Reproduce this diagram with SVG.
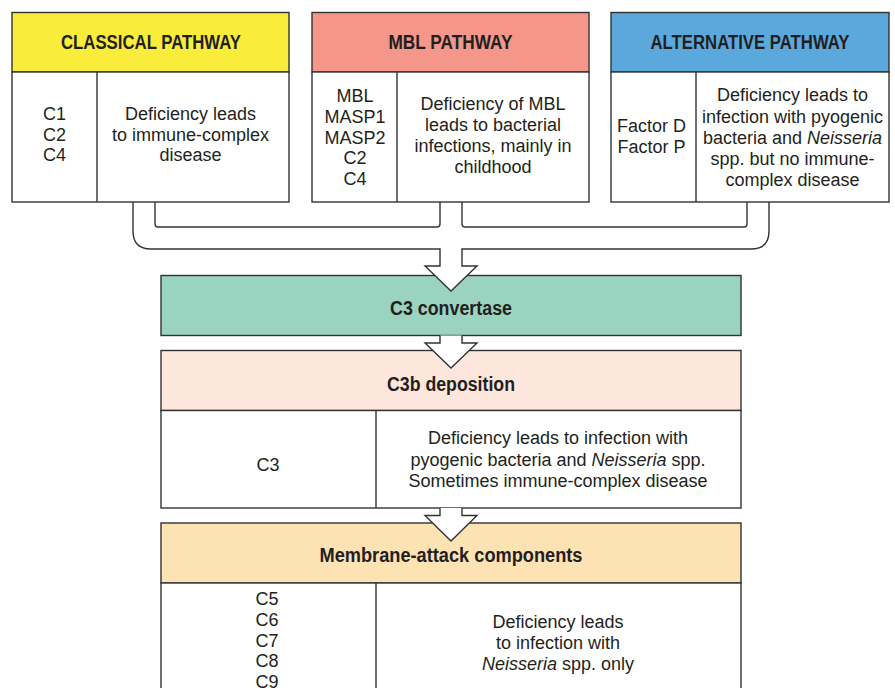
<svg xmlns="http://www.w3.org/2000/svg" width="895" height="688" viewBox="0 0 895 688">
<style>
.box{stroke:#333;stroke-width:1.4;}
.ln{stroke:#333;stroke-width:1.4;fill:none;}
.hd{font-family:"Liberation Sans",Arial,sans-serif;font-weight:bold;font-size:19.5px;fill:#231f20;text-anchor:middle;}
.tx{font-family:"Liberation Sans",Arial,sans-serif;font-size:18px;fill:#231f20;text-anchor:middle;}
.it{font-style:italic;}
.arr{fill:#fff;stroke:#333;stroke-width:1.4;stroke-linejoin:miter;}
</style>
<rect width="895" height="688" fill="#fff"/>
<g id="classical">
<rect class="box" x="12" y="12.5" width="277" height="59.5" fill="#f9ec3a"/>
<rect class="box" x="12" y="72" width="277" height="130" fill="#fff"/>
<line class="ln" x1="97" y1="72" x2="97" y2="202"/>
<text class="hd" x="151" y="49" textLength="180" lengthAdjust="spacingAndGlyphs">CLASSICAL PATHWAY</text>
<text class="tx" x="54.5" y="120">C1</text>
<text class="tx" x="54.5" y="140.5">C2</text>
<text class="tx" x="54.5" y="161">C4</text>
<text class="tx" x="190.5" y="120">Deficiency leads</text>
<text class="tx" x="190.5" y="140.5">to immune-complex</text>
<text class="tx" x="190.5" y="161">disease</text>
</g>
<g id="mbl">
<rect class="box" x="312" y="12.5" width="277" height="59.5" fill="#f4978a"/>
<rect class="box" x="312" y="72" width="277" height="130" fill="#fff"/>
<line class="ln" x1="397" y1="72" x2="397" y2="202"/>
<text class="hd" x="450.5" y="49" textLength="124" lengthAdjust="spacingAndGlyphs">MBL PATHWAY</text>
<text class="tx" x="355" y="101.5">MBL</text>
<text class="tx" x="355" y="122.5">MASP1</text>
<text class="tx" x="355" y="143.5">MASP2</text>
<text class="tx" x="355" y="164">C2</text>
<text class="tx" x="355" y="185">C4</text>
<text class="tx" x="493" y="110">Deficiency of MBL</text>
<text class="tx" x="493" y="131">leads to bacterial</text>
<text class="tx" x="493" y="152">infections, mainly in</text>
<text class="tx" x="493" y="173">childhood</text>
</g>
<g id="alternative">
<rect class="box" x="611" y="12.5" width="278" height="59.5" fill="#5ba8dc"/>
<rect class="box" x="611" y="72" width="278" height="130" fill="#fff"/>
<line class="ln" x1="696" y1="72" x2="696" y2="202"/>
<text class="hd" x="750" y="49" textLength="199" lengthAdjust="spacingAndGlyphs">ALTERNATIVE PATHWAY</text>
<text class="tx" x="651.5" y="132">Factor D</text>
<text class="tx" x="651.5" y="153">Factor P</text>
<text class="tx" x="792.5" y="101">Deficiency leads to</text>
<text class="tx" x="792.5" y="122.5">infection with pyogenic</text>
<text class="tx" x="792.5" y="143.5">bacteria and <tspan class="it">Neisseria</tspan></text>
<text class="tx" x="792.5" y="164.5">spp. but no immune-</text>
<text class="tx" x="792.5" y="185.5">complex disease</text>
</g>
<g id="c3convertase">
<rect class="box" x="161" y="275.5" width="580" height="60" fill="#9ad4c0"/>
<text class="hd" x="451" y="314.5" textLength="122" lengthAdjust="spacingAndGlyphs">C3 convertase</text>
</g>
<g id="c3b">
<rect class="box" x="161" y="350.5" width="580" height="60" fill="#fde6dc"/>
<rect class="box" x="161" y="410.5" width="580" height="97.5" fill="#fff"/>
<line class="ln" x1="376" y1="410.5" x2="376" y2="508"/>
<text class="hd" x="451" y="390.5" textLength="128" lengthAdjust="spacingAndGlyphs">C3b deposition</text>
<text class="tx" x="268" y="470.5">C3</text>
<text class="tx" x="558" y="444">Deficiency leads to infection with</text>
<text class="tx" x="558" y="465.5">pyogenic bacteria and <tspan class="it">Neisseria</tspan> spp.</text>
<text class="tx" x="558" y="487">Sometimes immune-complex disease</text>
</g>
<g id="membrane">
<rect class="box" x="161" y="523" width="580" height="60" fill="#fde2b4"/>
<rect class="box" x="161" y="583" width="580" height="120" fill="#fff"/>
<line class="ln" x1="376" y1="583" x2="376" y2="703"/>
<text class="hd" x="451" y="562" textLength="263" lengthAdjust="spacingAndGlyphs">Membrane-attack components</text>
<text class="tx" x="267" y="604.5">C5</text>
<text class="tx" x="267" y="625.5">C6</text>
<text class="tx" x="267" y="646.5">C7</text>
<text class="tx" x="267" y="667">C8</text>
<text class="tx" x="267" y="688">C9</text>
<text class="tx" x="558" y="628">Deficiency leads</text>
<text class="tx" x="558" y="649">to infection with</text>
<text class="tx" x="558" y="670"><tspan class="it">Neisseria</tspan> spp. only</text>
</g>
<g id="connectors">
<path d="M440,248 V266 H425 L451,291 L477,266 H462 V248 Z" fill="#fff"/>
<path class="ln" d="M133,202 V231 Q133,249 151,249 H440 V266 H425 L451,291 L477,266 H462 V249 H751 Q769,249 769,231 V202"/>
<path class="ln" d="M155,202 V224 Q155,227 158,227 H437 Q440,227 440,224 V202"/>
<path class="ln" d="M462,202 V224 Q462,227 465,227 H744 Q747,227 747,224 V202"/>
<path class="arr" d="M440,335.5 V343 H425 L451,368 L477,343 H462 V335.5"/>
<path class="arr" d="M440,508 V515.5 H425 L451,541 L477,515.5 H462 V508"/>
</g>
</svg>
